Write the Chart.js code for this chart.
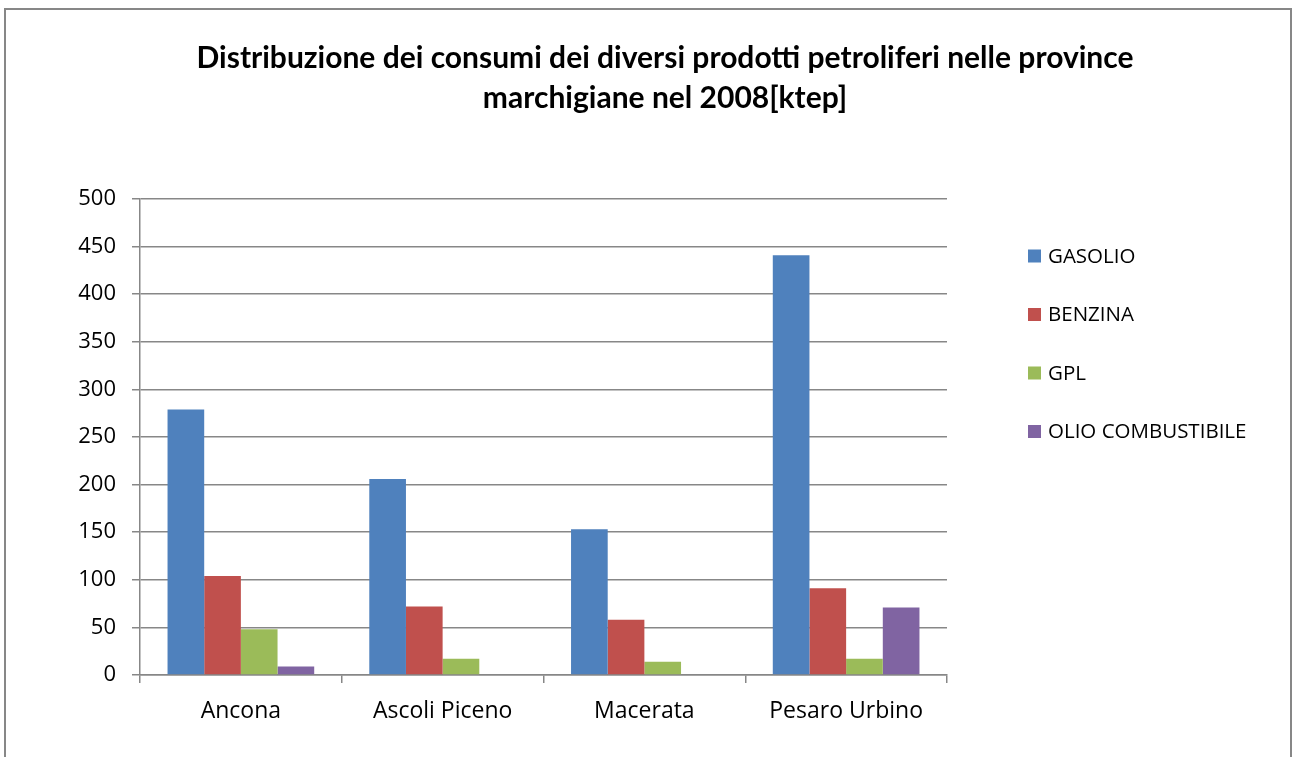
<!DOCTYPE html>
<html><head><meta charset="utf-8">
<script src="https://cdn.jsdelivr.net/npm/chart.js@4.4.0/dist/chart.umd.min.js"></script>
<style>
html,body{margin:0;padding:0;background:#fff;}
#wrap{position:relative;width:1294px;height:757px;overflow:hidden;}
#frame{position:absolute;left:4px;top:8px;width:1288px;height:800px;border:2px solid #878787;box-sizing:border-box;}
canvas{position:absolute;left:0;top:0;}
</style></head><body>
<div id="wrap"><div id="frame"></div><canvas id="c" width="1294" height="757"></canvas></div>
<script>
const titleLines = ['Distribuzione dei consumi dei diversi prodotti petroliferi nelle province', 'marchigiane nel 2008[ktep]'];
const categories = ['Ancona', 'Ascoli Piceno', 'Macerata', 'Pesaro Urbino'];
const seriesNames = ['GASOLIO', 'BENZINA', 'GPL', 'OLIO COMBUSTIBILE'];
const gasolio = [279, 206, 153, 441];
const benzina = [104, 72, 58, 91];
const gpl = [48, 17, 14, 17];
const olio = [9, 0, 0, 71];
const yTicks = [0, 50, 100, 150, 200, 250, 300, 350, 400, 450, 500];
const colors = ['#4F81BD', '#C0504D', '#9BBB59', '#8064A2'];

const GRID = '#878787';

const titlePlugin = {
  id: 'customTitle',
  afterDraw(chart) {
    const ctx = chart.ctx;
    ctx.save();
    ctx.fillStyle = '#000';
    ctx.font = 'bold 30px Lato';
    ctx.textAlign = 'center';
    ctx.textBaseline = 'alphabetic';
    ctx.fillText(titleLines[0], 665, 68);
    ctx.fillText(titleLines[1], 665, 108);
    ctx.restore();
  }
};

const legendPlugin = {
  id: 'customLegend',
  afterDraw(chart) {
    const ctx = chart.ctx;
    const x0 = chart.chartArea.right + 81;
    ctx.save();
    ctx.font = '20.5px "Open Sans"';
    ctx.textAlign = 'left';
    ctx.textBaseline = 'middle';
    chart.data.datasets.forEach((ds, i) => {
      const cy = 256 + i * 58.5;
      ctx.fillStyle = ds.backgroundColor;
      ctx.fillRect(x0, cy - 6.5, 13, 13);
      ctx.fillStyle = '#000';
      ctx.fillText(ds.label, x0 + 20, cy + 1);
    });
    ctx.restore();
  }
};

function build() {
  const values = [gasolio, benzina, gpl, olio];
  new Chart(document.getElementById('c'), {
    type: 'bar',
    data: {
      labels: categories,
      datasets: seriesNames.map((n, i) => ({
        label: n,
        data: values[i],
        backgroundColor: colors[i],
        borderWidth: 0,
        categoryPercentage: 0.727,
        barPercentage: 1
      }))
    },
    options: {
      responsive: false,
      animation: false,
      layout: { padding: { top: 199, right: 347, left: 0, bottom: 0 } },
      plugins: { legend: { display: false }, title: { display: false }, tooltip: { enabled: false } },
      scales: {
        x: {
          offset: true,
          grid: { display: true, offset: true, drawOnChartArea: false, drawTicks: true, tickLength: 8, color: GRID, lineWidth: 1.5 },
          border: { display: true, color: GRID, width: 1.5 },
          ticks: { font: { family: 'Open Sans', size: 23 }, color: '#000', padding: 15 },
          afterFit: s => { s.height = 82; }
        },
        y: {
          min: 0, max: 500,
          afterBuildTicks: s => { s.ticks = yTicks.map(v => ({ value: v })); },
          ticks: { font: { family: 'Open Sans', size: 22 }, color: '#000', padding: 16 },
          grid: { color: GRID, lineWidth: 1.5, tickLength: 8 },
          border: { display: true, color: GRID, width: 1.5 },
          afterFit: s => { s.width = 140; }
        }
      }
    },
    plugins: [titlePlugin, legendPlugin]
  });
}
Promise.all([
  document.fonts.load('20px "Open Sans"'),
  document.fonts.load('bold 30px Lato')
]).then(build, build);
</script>
</body></html>
